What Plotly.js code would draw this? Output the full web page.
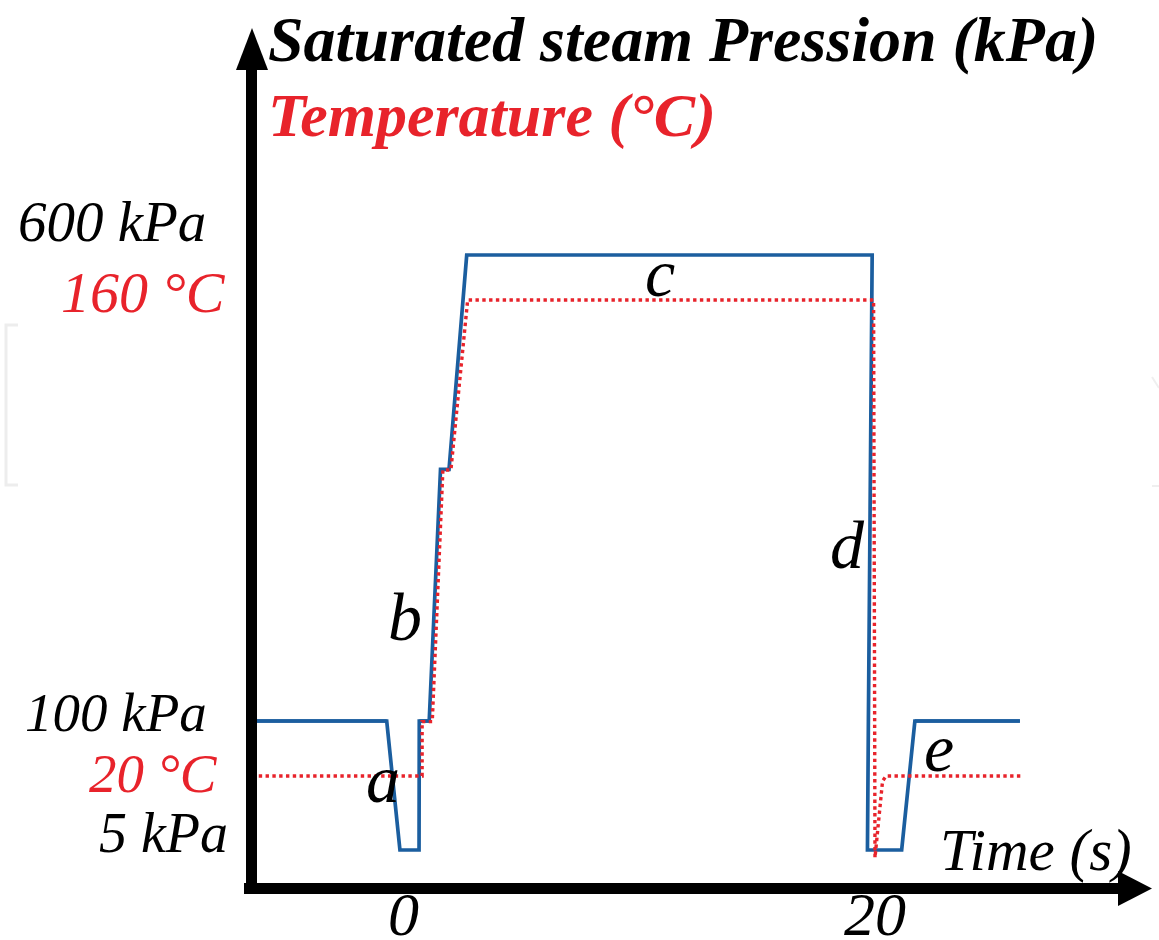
<!DOCTYPE html>
<html><head><meta charset="utf-8">
<script src="https://cdn.plot.ly/plotly-3.0.1.min.js"></script>
<style>html,body{margin:0;padding:0;background:#fff;overflow:hidden}</style>
</head><body>
<div id="chart" style="width:1159px;height:940px"></div>
<script>
// ---------------- data ----------------
const timeTicks = [0, 20];
const timeTickLabels = ['0', '20'];

// saturated steam pressure (kPa) vs time (s)
const pressureTime = [-6.41, -0.69, -0.13, 0.68, 0.69, 1.11, 1.59, 1.95, 2.70, 19.88, 19.72, 19.68, 21.13, 21.69, 26.14];
const pressureKpa  = [100, 100, 5, 5, 100, 100, 370, 370, 600, 600, 100, 5, 5, 100, 100];

// temperature (°C) vs time (s)
const temperatureTime = [-6.40, 0.81, 0.81, 1.24, 1.69, 2.03, 2.74, 19.94, 20.00, 20.32, 20.47, 26.27];
const temperatureC    = [20, 20, 36, 36, 110, 110, 160, 160, -4, 18.5, 20, 20];

const pressureLabels = ['600 kPa', '100 kPa', '5 kPa'];
const temperatureLabels = ['160 °C', '20 °C'];
const phaseLabels = ['a', 'b', 'c', 'd', 'e'];
const pressureTitle = 'Saturated steam Pression (kPa)';
const temperatureTitle = 'Temperature (°C)';
const timeTitle = 'Time (s)';

// ---------------- styling / layout ----------------
const FONT = 'Liberation Serif';
const BLUE = '#1b5e9f';
const RED = '#e8232b';
const BREAK_KPA = 100; // pressure axis is drawn as a broken (two-segment) axis at 100 kPa

// plot area in pixels
const L = 251, R = 1152, T = 28, B = 888;
const px = x => (x - L) / (R - L);
const py = y => (B - y) / (B - T);

function segmentsWhere(xs, ys, keep) {
  const ox = [], oy = [];
  let lastIdx = -1;
  for (let i = 0; i < xs.length - 1; i++) {
    if (keep(ys[i]) && keep(ys[i + 1])) {
      if (lastIdx !== i) {
        if (ox.length) { ox.push(null); oy.push(null); }
        ox.push(xs[i]); oy.push(ys[i]);
      }
      ox.push(xs[i + 1]); oy.push(ys[i + 1]);
      lastIdx = i + 1;
    }
  }
  return {x: ox, y: oy};
}
const lowP = segmentsWhere(pressureTime, pressureKpa, v => v <= BREAK_KPA);
const highP = segmentsWhere(pressureTime, pressureKpa, v => v >= BREAK_KPA);

const traces = [
  {x: lowP.x, y: lowP.y, xaxis: 'x', yaxis: 'y', mode: 'lines', name: 'Pressure',
   line: {color: BLUE, width: 3.7}, hoverinfo: 'skip'},
  {x: highP.x, y: highP.y, xaxis: 'x', yaxis: 'y2', mode: 'lines', name: 'Pressure',
   line: {color: BLUE, width: 3.7}, hoverinfo: 'skip'},
  {x: temperatureTime, y: temperatureC, xaxis: 'x', yaxis: 'y3', mode: 'lines', name: 'Temperature',
   line: {color: RED, width: 3.4, dash: 'dot'}, hoverinfo: 'skip'}
];

function label(text, x, y, size, color, xanchor, extra) {
  return Object.assign({
    text, xref: 'paper', yref: 'paper', x: px(x), y: py(y), showarrow: false,
    xanchor: xanchor, yanchor: 'middle',
    font: {family: FONT, size: size, color: color, style: 'italic'}
  }, extra || {});
}

const annotations = [
  label(pressureTitle, 266, 39, 64, '#000', 'left', {font: {family: FONT, size: 64, color: '#000', style: 'italic', weight: 'bold'}}),
  label(temperatureTitle, 266, 115, 62, RED, 'left', {font: {family: FONT, size: 62, color: RED, style: 'italic', weight: 'bold'}}),
  label(pressureLabels[0], 208, 221, 57, '#000', 'right'),
  label(temperatureLabels[0], 228, 292, 58, RED, 'right'),
  label(pressureLabels[1], 209, 712, 55, '#000', 'right'),
  label(temperatureLabels[1], 220, 773, 55, RED, 'right'),
  label(pressureLabels[2], 230, 833, 56, '#000', 'right'),
  label(timeTitle, 1134, 850, 59, '#000', 'right'),
  label(phaseLabels[0], 383, 779, 68, '#000', 'center'),
  label(phaseLabels[1], 405, 617, 68, '#000', 'center'),
  label(phaseLabels[2], 660, 273, 68, '#000', 'center'),
  label(phaseLabels[3], 847, 545, 68, '#000', 'center'),
  label(phaseLabels[4], 939, 748, 68, '#000', 'center')
];
// time tick labels, placed on the time scale
timeTicks.forEach((t, i) => {
  annotations.push({
    text: timeTickLabels[i], xref: 'x', yref: 'paper', x: t, y: py(914), showarrow: false,
    xanchor: 'center', yanchor: 'middle',
    font: {family: FONT, size: 62, color: '#000', style: 'italic'}
  });
});

function poly(points) {
  return 'M' + points.map(p => px(p[0]) + ',' + py(p[1])).join(' L') + ' Z';
}
const shapes = [
  // y axis shaft + arrowhead
  {type: 'rect', xref: 'paper', yref: 'paper', x0: px(246), x1: px(257), y0: py(894), y1: py(66),
   fillcolor: '#000', line: {width: 0}},
  {type: 'path', xref: 'paper', yref: 'paper', path: poly([[236, 70], [252, 28], [268, 70]]),
   fillcolor: '#000', line: {width: 0}},
  // x axis shaft + arrowhead
  {type: 'rect', xref: 'paper', yref: 'paper', x0: px(244), x1: px(1122), y0: py(894), y1: py(883),
   fillcolor: '#000', line: {width: 0}},
  {type: 'path', xref: 'paper', yref: 'paper', path: poly([[1118, 871], [1152, 888.5], [1118, 906]]),
   fillcolor: '#000', line: {width: 0}},
  // faint page residue
  {type: 'path', xref: 'paper', yref: 'paper',
   path: 'M' + px(18) + ',' + py(325) + ' L' + px(6) + ',' + py(325) + ' L' + px(6) + ',' + py(485) + ' L' + px(18) + ',' + py(485),
   line: {color: '#ededed', width: 3}},
  {type: 'line', xref: 'paper', yref: 'paper', x0: px(1152), y0: py(377), x1: px(1159), y1: py(388),
   line: {color: '#efefef', width: 2}},
  {type: 'line', xref: 'paper', yref: 'paper', x0: px(1152), y0: py(486), x1: px(1159), y1: py(486),
   line: {color: '#efefef', width: 2}}
];

const layout = {
  width: 1159, height: 940,
  margin: {l: L, r: 1159 - R, t: T, b: 940 - B, pad: 0},
  paper_bgcolor: '#ffffff', plot_bgcolor: 'rgba(0,0,0,0)',
  showlegend: false,
  xaxis: {domain: [0, 1], range: [-6.4407, 31.7373], anchor: 'y', showgrid: false, zeroline: false,
          showline: false, ticks: '', showticklabels: false, tickvals: timeTicks, fixedrange: true},
  // lower segment of the broken pressure axis (5 – 100 kPa)
  yaxis: {domain: [0, 0.2186], range: [-22.98, 115.47], visible: false, fixedrange: true},
  // upper segment of the broken pressure axis (100 – 600 kPa)
  yaxis2: {domain: [0.1663, 1], range: [74.25, 843.56], visible: false, fixedrange: true},
  // temperature axis
  yaxis3: {domain: [0, 1], range: [-12.94, 240], visible: false, fixedrange: true},
  annotations, shapes
};

Plotly.newPlot('chart', traces, layout, {staticPlot: true, displayModeBar: false});
</script>
</body></html>
